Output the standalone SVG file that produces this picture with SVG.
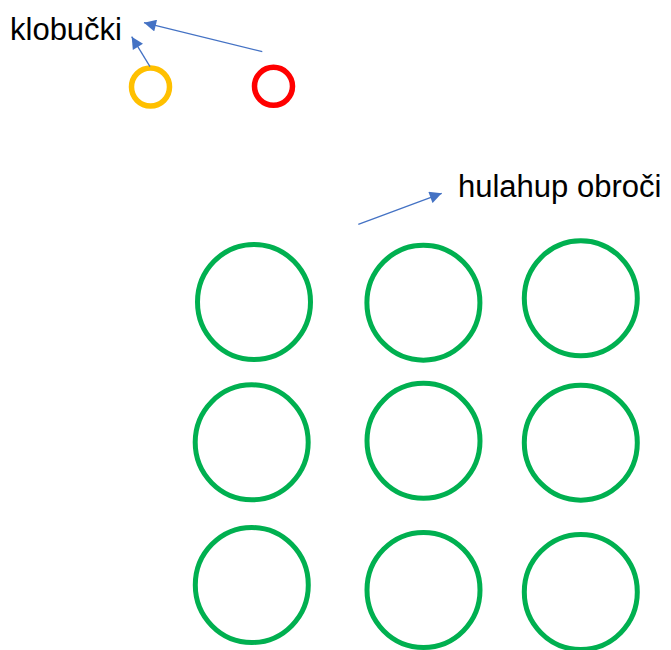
<svg xmlns="http://www.w3.org/2000/svg" width="671" height="650" viewBox="0 0 671 650">
<style>
.lbl{font-family:"Liberation Sans",Arial,sans-serif;font-size:31px;fill:#000}
.hoop{fill:none;stroke:#00B050;stroke-width:5}
.hat{fill:none;stroke-width:5.5}
.conn{fill:none;stroke:#4472C4;stroke-width:1.3}
</style>
<defs>
<marker id="ah" viewBox="0 0 10 10" refX="10" refY="5" markerUnits="userSpaceOnUse" markerWidth="14" markerHeight="12" orient="auto">
<path d="M0,0 L10,5 L0,10 Z" fill="#4472C4"/>
</marker>
</defs>
<rect width="671" height="650" fill="#fff"/>
<g id="label-klobucki"><text class="lbl" x="10" y="40">klobučki</text></g>
<g id="label-hulahup"><text class="lbl" x="458" y="197">hulahup obroči</text></g>
<g id="hat-yellow"><circle class="hat" cx="150.5" cy="87" r="19" stroke="#FFC000"/></g>
<g id="hat-red"><circle class="hat" cx="273.5" cy="86.3" r="19" stroke="#FF0000"/></g>
<g id="hoop-1"><ellipse class="hoop" cx="254" cy="302" rx="56.5" ry="57.5"/></g>
<g id="hoop-2"><ellipse class="hoop" cx="423.4" cy="302.7" rx="56.5" ry="57.5"/></g>
<g id="hoop-3"><ellipse class="hoop" cx="580.8" cy="298.3" rx="56.5" ry="57.5"/></g>
<g id="hoop-4"><ellipse class="hoop" cx="251.7" cy="442.3" rx="56.5" ry="57.5"/></g>
<g id="hoop-5"><ellipse class="hoop" cx="423.5" cy="440.8" rx="56.5" ry="57.5"/></g>
<g id="hoop-6"><ellipse class="hoop" cx="580.8" cy="442.7" rx="56.5" ry="57.5"/></g>
<g id="hoop-7"><ellipse class="hoop" cx="251.8" cy="585" rx="56.5" ry="57.5"/></g>
<g id="hoop-8"><ellipse class="hoop" cx="423.5" cy="590" rx="56.5" ry="57.5"/></g>
<g id="hoop-9"><ellipse class="hoop" cx="580.8" cy="592" rx="56.5" ry="57.5"/></g>
<g id="connectors">
<line class="conn" x1="262.3" y1="51.7" x2="144" y2="22.7" marker-end="url(#ah)"/>
<line class="conn" x1="150" y1="66.7" x2="131.7" y2="36.7" marker-end="url(#ah)"/>
<line class="conn" x1="358.3" y1="224.3" x2="441.7" y2="193.3" marker-end="url(#ah)"/>
</g>
</svg>
